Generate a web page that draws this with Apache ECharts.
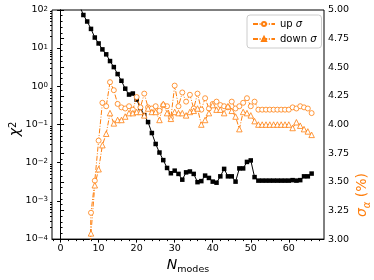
<!DOCTYPE html>
<html><head><meta charset="utf-8">
<script src="https://cdn.jsdelivr.net/npm/echarts@6/dist/echarts.min.js"></script>
<style>html,body{margin:0;padding:0;background:#fff}#c{width:374px;height:280px}</style>
</head><body><div id="c"></div>
<script>
// N_modes for chi^2 curve
const nChi = [];
for (let i = 1; i <= 66; i++) nChi.push(i);
const chi2 = [1e6, 1e5, 1e4, 1500, 130,
  74, 50, 32, 19, 13.3, 9.3, 6.9, 4.6, 3.2, 2.1,
  1.4, 0.87, 0.61, 0.65, 0.45, 0.27, 0.175, 0.116, 0.060, 0.031,
  0.0185, 0.0117, 0.0073, 0.0053, 0.0062, 0.0051, 0.0036, 0.0056, 0.0059, 0.0051,
  0.0031, 0.0033, 0.0046, 0.0040, 0.0032, 0.0030, 0.0044, 0.0069, 0.0044, 0.0044,
  0.0032, 0.0071, 0.0071, 0.0105, 0.0115, 0.0042,
  0.0034, 0.0034, 0.0034, 0.0034, 0.0034, 0.0034, 0.0034, 0.0034, 0.0034,
  0.0035, 0.0034, 0.0035, 0.0044, 0.0044, 0.0052];
// N_modes for sigma curves
const nSig = [];
for (let i = 7; i <= 66; i++) nSig.push(i);
const upSigma = [2.0, 3.23, 3.51, 3.86, 4.19, 4.16, 4.37, 4.30, 4.18, 4.15,
  4.14, 4.16, 4.13, 4.24, 4.15, 4.27, 4.15, 4.14, 4.16, 4.12,
  4.17, 4.16, 4.06, 4.34, 4.16, 4.28, 4.20, 4.26, 4.14, 4.27,
  4.13, 4.23, 4.14, 4.18, 4.20, 4.17, 4.16, 4.15, 4.20, 4.14,
  4.16, 4.19, 4.23, 4.16, 4.20,
  4.13, 4.13, 4.13, 4.13, 4.13, 4.13, 4.13, 4.13, 4.13,
  4.15, 4.14, 4.16, 4.15, 4.14, 4.10];
const downSigma = [2.0, 3.05, 3.47, 3.61, 3.82, 3.92, 4.10, 4.01, 4.04, 4.04,
  4.07, 4.10, 4.10, 4.11, 4.11, 4.08, 4.14, 4.11, 4.11, 4.04,
  4.18, 4.10, 4.05, 4.11, 4.10, 4.10, 4.08, 4.11, 4.12, 4.14,
  4.00, 4.04, 4.10, 4.17, 4.13, 4.13, 4.10, 4.16, 4.12, 4.07,
  3.96, 4.11, 4.10, 4.08, 4.03,
  4.00, 4.00, 4.00, 4.00, 4.00, 4.00, 4.00, 4.00, 4.00,
  3.97, 4.02, 3.99, 3.96, 3.94, 3.91];
const xTicks = [0, 10, 20, 30, 40, 50, 60];
const xMinorTicks = [-2, 2, 4, 6, 8, 12, 14, 16, 18, 22, 24, 26, 28, 32, 34, 36, 38, 42, 44, 46, 48, 52, 54, 56, 58, 62, 64, 66, 68];
const logTicks = [1e-4, 1e-3, 1e-2, 1e-1, 1, 10, 100];
const logMinor = [];
for (let e = -4; e < 2; e++) for (let m = 2; m <= 9; m++) logMinor.push(m * Math.pow(10, e));

const ORANGE = '#ff7f0e';
const FONT = 'DejaVu Sans';
const chart = echarts.init(document.getElementById('c'), null, {renderer: 'canvas'});
const pairs = (xs, ys) => xs.map((x, i) => [x, ys[i]]);

chart.setOption({
  animation: false,
  backgroundColor: '#fff',
  textStyle: {fontFamily: FONT},
  grid: {left: 52, right: 50, top: 10, bottom: 37, show: true, borderColor: '#000', borderWidth: 1, containLabel: false},
  legend: {
    data: ['up σ', 'down σ'], orient: 'vertical', left: 247, top: 15,
    itemWidth: 22, itemHeight: 5, itemGap: 3, padding: [3, 5, 3, 5],
    borderColor: '#ccc', borderWidth: 1, borderRadius: 3, backgroundColor: 'rgba(255,255,255,0.8)',
    formatter: n => n.replace('σ', '{i|σ}'),
    textStyle: {fontFamily: FONT, fontSize: 10, color: '#000', lineHeight: 12,
      rich: {i: {fontFamily: FONT, fontSize: 10, fontStyle: 'italic', color: '#000', lineHeight: 12}}}
  },
  xAxis: [{
    type: 'value', min: -2.25, max: 69.25, position: 'bottom',
    axisLine: {show: true, lineStyle: {color: '#000', width: 1}},
    axisTick: {show: true, customValues: xTicks, length: 3.5, lineStyle: {color: '#000'}},
    axisLabel: {customValues: xTicks, fontFamily: FONT, fontSize: 9.5, color: '#000', margin: 4},
    splitLine: {show: false},
    name: '{n|N}{s|modes}', nameLocation: 'middle', nameGap: 1,
    nameTextStyle: {rich: {
      n: {fontFamily: FONT, fontSize: 14, fontStyle: 'italic', color: '#000', lineHeight: 14, verticalAlign: 'top'},
      s: {fontFamily: FONT, fontSize: 9.5, color: '#000', lineHeight: 9.5, padding: [7, 0, 0, 0], verticalAlign: 'top'}
    }}
  }, {
    type: 'value', min: -2.25, max: 69.25, position: 'bottom',
    axisLine: {show: false},
    axisTick: {show: true, customValues: xMinorTicks, length: 2, lineStyle: {color: '#000'}},
    axisLabel: {show: false}, splitLine: {show: false}
  }],
  yAxis: [{
    type: 'log', logBase: 10, min: 1e-4, max: 100, position: 'left',
    axisLine: {show: true, lineStyle: {color: '#000', width: 1}},
    axisTick: {show: true, customValues: logTicks, length: 3.5, lineStyle: {color: '#000'}},
    axisLabel: {customValues: logTicks, margin: 4, color: '#000',
      formatter: v => { const e = Math.round(Math.log10(v)); return '{b|10}{p|' + (e < 0 ? '\u2212' + (-e) : e) + '}'; },
      rich: {
        b: {fontFamily: FONT, fontSize: 9.5, color: '#000', lineHeight: 9.5, verticalAlign: 'bottom'},
        p: {fontFamily: FONT, fontSize: 7, color: '#000', lineHeight: 7, padding: [0, 0, 4, 0], verticalAlign: 'top'}
      }},
    splitLine: {show: false}
  }, {
    type: 'value', min: 3, max: 5, interval: 0.25, position: 'right',
    axisLine: {show: true, lineStyle: {color: '#000', width: 1}},
    axisTick: {show: true, length: 3.5, lineStyle: {color: '#000'}},
    minorTick: {show: true, splitNumber: 5, length: 2, lineStyle: {color: '#000'}},
    axisLabel: {fontFamily: FONT, fontSize: 9.5, color: '#000', margin: 4, formatter: v => v.toFixed(2)},
    splitLine: {show: false}, minorSplitLine: {show: false}
  }, {
    type: 'log', logBase: 10, min: 1e-4, max: 100, position: 'left',
    axisLine: {show: false},
    axisTick: {show: true, customValues: logMinor, length: 2, lineStyle: {color: '#000'}},
    axisLabel: {show: false}, splitLine: {show: false}
  }],
  graphic: [
    {type: 'text', x: 15, y: 129, rotation: Math.PI / 2, z: 100,
      style: {text: '{x|χ}{s|2}', align: 'center', verticalAlign: 'middle',
        rich: {x: {fontFamily: FONT, fontSize: 14, fontStyle: 'italic', fill: '#000', lineHeight: 14, verticalAlign: 'bottom'},
               s: {fontFamily: FONT, fontSize: 10, fill: '#000', lineHeight: 10, padding: [0, 0, 7, 0], verticalAlign: 'top'}}}},
    {type: 'text', x: 362, y: 195, rotation: Math.PI / 2, z: 100,
      style: {text: '{s|σ}{a|α}{p| (%)}', align: 'center', verticalAlign: 'middle',
        rich: {s: {fontFamily: FONT, fontSize: 14, fontStyle: 'italic', fill: ORANGE, lineHeight: 14, verticalAlign: 'top'},
               a: {fontFamily: FONT, fontSize: 10, fontStyle: 'italic', fill: ORANGE, lineHeight: 10, padding: [7, 0, 0, 0], verticalAlign: 'top'},
               p: {fontFamily: FONT, fontSize: 14, fill: ORANGE, lineHeight: 14, verticalAlign: 'top'}}}}
  ],
  series: [{
    name: 'chi2', type: 'line', xAxisIndex: 0, yAxisIndex: 0, data: pairs(nChi, chi2),
    symbol: 'rect', symbolSize: 4.5, itemStyle: {color: '#000'}, lineStyle: {color: '#000', width: 1}, clip: true, z: 2
  }, {
    name: 'up σ', type: 'line', xAxisIndex: 0, yAxisIndex: 1, data: pairs(nSig, upSigma),
    symbol: 'circle', symbolSize: 5, itemStyle: {color: '#fff', borderColor: ORANGE, borderWidth: 0.8},
    lineStyle: {color: ORANGE, width: 1, type: [5, 1.6, 1, 1.6]}, clip: true, z: 3
  }, {
    name: 'down σ', type: 'line', xAxisIndex: 0, yAxisIndex: 1, data: pairs(nSig, downSigma),
    symbol: 'triangle', symbolSize: 5.5, itemStyle: {color: '#fff', borderColor: ORANGE, borderWidth: 0.8},
    lineStyle: {color: ORANGE, width: 1, type: [5, 1.6, 1, 1.6]}, clip: true, z: 3
  }]
});
</script></body></html>
